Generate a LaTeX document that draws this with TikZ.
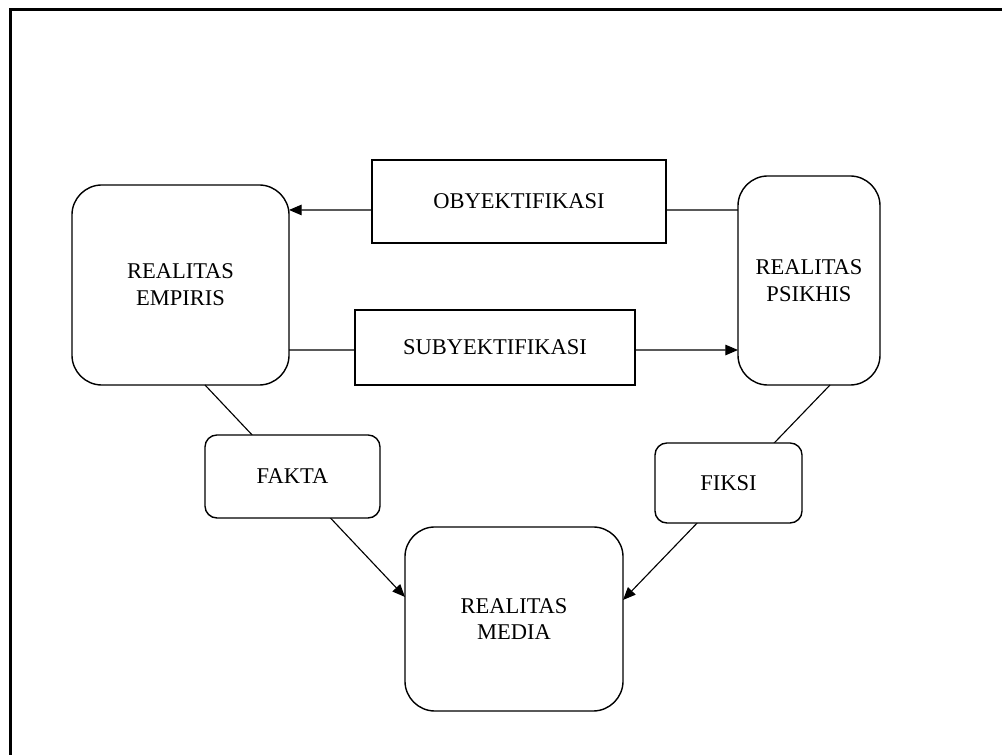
\documentclass[tikz,border=0pt]{standalone}
\usepackage{fontspec}
\setmainfont{Liberation Serif}
\usetikzlibrary{arrows.meta}

\begin{document}
\begin{tikzpicture}[
    x=0.025cm, y=0.025cm,
    >={Triangle[length=9pt,width=7.5pt]},
    font=\fontsize{16}{19}\selectfont,
    every node/.style={align=center, inner sep=0pt, outer sep=0pt},
    bigbox/.style={draw, line width=1pt, fill=white, rounded corners=0.75cm},
    labelbox/.style={draw, line width=1pt, fill=white, rectangle},
    link/.style={line width=0.8pt}
]

\useasboundingbox (0,0) rectangle (1002,755);

% Frame
\draw[line width=2.6pt] (10.5,0) -- (10.5,745.5) -- (1002,745.5);

% Realitas nodes
\node[bigbox, minimum width=5.425cm, minimum height=5.0cm]
    (empiris) at (180.5,470) {REALITAS\\EMPIRIS};

\node[bigbox, minimum width=3.55cm, minimum height=5.225cm]
    (psikhis) at (809,474.5) {REALITAS\\PSIKHIS};

\node[bigbox, minimum width=5.45cm, minimum height=4.6cm]
    (media) at (514,136) {REALITAS\\MEDIA};

% Connectors
\draw[->, link] ([yshift=1.7625cm]psikhis.west) -- ([yshift=1.875cm]empiris.east);
\draw[->, link] ([yshift=-1.625cm]empiris.east) -- ([yshift=-1.7375cm]psikhis.west);
\draw[->, link] ([xshift=0.6125cm]empiris.south) -- ([yshift=0.55cm]media.west);
\draw[->, link] ([xshift=0.525cm]psikhis.south) -- ([yshift=0.475cm]media.east);

% Labels on the connectors
\node[labelbox, minimum width=7.35cm, minimum height=2.075cm]
    (obyek) at (519,553.5) {OBYEKTIFIKASI};

\node[labelbox, minimum width=7.0cm, minimum height=1.875cm]
    (subyek) at (495,407.5) {SUBYEKTIFIKASI};

\node[labelbox, rounded corners=0.3cm, minimum width=4.375cm, minimum height=2.075cm]
    (fakta) at (292.5,278.5) {FAKTA};

\node[labelbox, rounded corners=0.3cm, minimum width=3.675cm, minimum height=2.0cm]
    (fiksi) at (728.5,272) {FIKSI};

\end{tikzpicture}
\end{document}
